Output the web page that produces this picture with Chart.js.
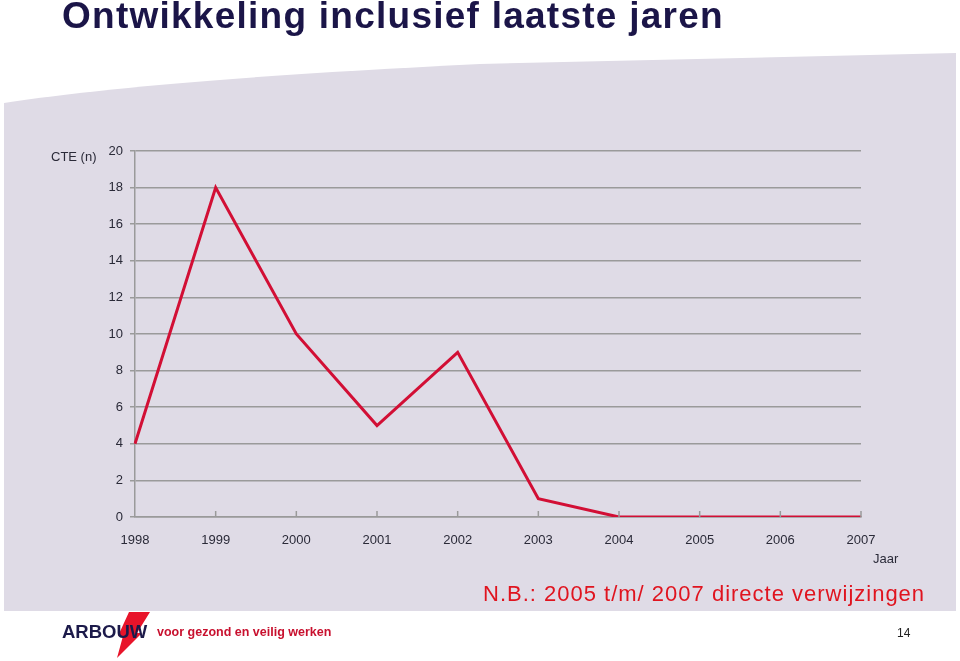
<!DOCTYPE html>
<html>
<head>
<meta charset="utf-8">
<script src="https://cdn.jsdelivr.net/npm/chart.js@4.4.1/dist/chart.umd.min.js"></script>
<style>
  html, body { margin: 0; padding: 0; background: #ffffff; }
  body { width: 960px; height: 661px; position: relative; overflow: hidden; font-family: "Liberation Sans", Arial, sans-serif; }
  #bg { position: absolute; left: 0; top: 0; z-index: 0; }
  #chart { position: absolute; left: 0; top: 0; z-index: 1; }
  .t { position: absolute; z-index: 2; white-space: nowrap; }
  #title { left: 62px; top: -5px; font-size: 37px; font-weight: bold; color: #1b1548; letter-spacing: 1.25px; }
  #ylab { left: 51px; top: 149px; font-size: 13px; color: #2a2a38; }
  #xlab { left: 873px; top: 551px; font-size: 13px; color: #2a2a38; }
  #nb { left: 483px; top: 581px; font-size: 22px; color: #e0141f; letter-spacing: 1px; }
  #logo { left: 62px; top: 621px; font-size: 18.5px; font-weight: bold; color: #1c1a4a; z-index: 3; }
  #slogan { left: 157px; top: 625px; font-size: 12.5px; font-weight: bold; color: #c8102e; }
  #page { left: 897px; top: 626px; font-size: 12px; color: #222; }
</style>
</head>
<body>
<svg id="bg" width="960" height="661" viewBox="0 0 960 661">
  <path d="M4,103 Q150,80 480,64 L956,53 L956,611 L4,611 Z" fill="#dfdbe6"/>
  <polygon points="129,612 150,612 137,633 142,633 117,658 123,636 118,636" fill="#e8142a"/>
</svg>
<canvas id="chart" width="960" height="661"></canvas>
<div class="t" id="title">Ontwikkeling inclusief laatste jaren</div>
<div class="t" id="ylab">CTE (n)</div>
<div class="t" id="xlab">Jaar</div>
<div class="t" id="nb">N.B.: 2005 t/m/ 2007 directe verwijzingen</div>
<div class="t" id="logo">ARBOUW</div>
<div class="t" id="slogan">voor gezond en veilig werken</div>
<div class="t" id="page">14</div>
<script>
const years = ["1998","1999","2000","2001","2002","2003","2004","2005","2006","2007"];
const cteCounts = [4, 18, 10, 5, 9, 1, 0, 0, 0, 0];
const yTicks = [0, 2, 4, 6, 8, 10, 12, 14, 16, 18, 20];

const innerTicks = {
  id: 'innerTicks',
  afterDatasetsDraw(chart) {
    const x = chart.scales.x, ctx = chart.ctx, b = chart.chartArea.bottom;
    ctx.save();
    ctx.strokeStyle = '#9a9a9a';
    ctx.lineWidth = 1.5;
    for (let i = 1; i < years.length; i++) {
      const px = x.getPixelForTick(i);
      ctx.beginPath();
      ctx.moveTo(px, b - 6);
      ctx.lineTo(px, b);
      ctx.stroke();
    }
    ctx.restore();
  }
};

new Chart(document.getElementById('chart'), {
  type: 'line',
  data: {
    labels: years,
    datasets: [{
      data: cteCounts,
      borderColor: '#d20f35',
      borderWidth: 3,
      pointRadius: 0,
      tension: 0,
      fill: false
    }]
  },
  options: {
    responsive: false,
    devicePixelRatio: 1,
    animation: false,
    layout: { padding: { left: 0, top: 151, right: 99, bottom: 0 } },
    plugins: { legend: { display: false }, tooltip: { enabled: false } },
    scales: {
      x: {
        offset: false,
        grid: { drawOnChartArea: false, drawTicks: false },
        border: { color: '#9a9a9a', width: 1.5 },
        ticks: { color: '#2a2a38', font: { family: 'Liberation Sans, Arial', size: 13 }, padding: 16, maxRotation: 0, autoSkip: false },
        afterFit(s) { s.height = 661 - 517; }
      },
      y: {
        min: 0, max: 20,
        afterBuildTicks(s) { s.ticks = yTicks.map(v => ({ value: v })); },
        grid: { color: '#9a9a9a', lineWidth: 1.5, tickLength: 5 },
        border: { color: '#9a9a9a', width: 1.5 },
        ticks: { color: '#2a2a38', font: { family: 'Liberation Sans, Arial', size: 13 }, padding: 7 },
        afterFit(s) { s.width = 135; }
      }
    }
  },
  plugins: [innerTicks]
});
</script>
</body>
</html>
